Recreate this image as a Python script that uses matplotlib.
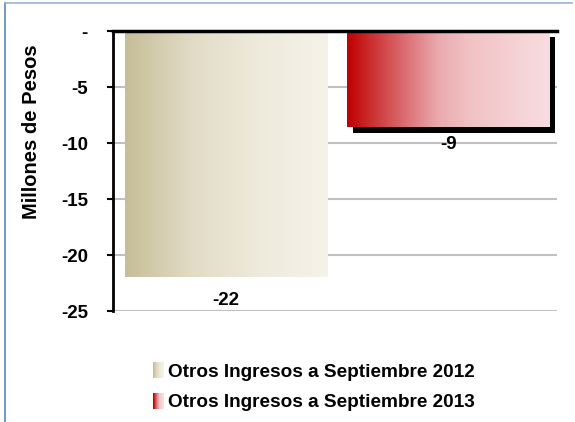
import numpy as np
import matplotlib
matplotlib.use("Agg")
import matplotlib.pyplot as plt
from matplotlib.colors import LinearSegmentedColormap
from matplotlib.patches import Rectangle
from matplotlib.legend_handler import HandlerBase
import matplotlib.patheffects as pe

plt.rcParams['font.family'] = ['Liberation Sans', 'DejaVu Sans']
plt.rcParams['font.weight'] = 'bold'

# data
series = ['Otros Ingresos a Septiembre 2012', 'Otros Ingresos a Septiembre 2013']
values = [-22.0, -8.6]
yticks = [0, -5, -10, -15, -20, -25]
yticklabels = ['-', '-5', '-10', '-15', '-20', '-25']
label_offsets = [-23, -17]   # px below bar end

cmaps = [
    LinearSegmentedColormap.from_list('beige', ['#C6BE98', '#E2DCC6', '#EEEADC', '#F5F2E9']),
    LinearSegmentedColormap.from_list('red', [(0, '#C00000'), (0.2, '#D34F52'),
                                             (0.45, '#EAAAAE'), (0.6, '#F1C2C4'),
                                             (1, '#F8DDE0')]),
]

fig = plt.figure(figsize=(5.75, 4.22), dpi=100)
fig.patch.set_facecolor('white')
ax = fig.add_axes([113/575, 1-311/422, 444/575, 280/422])

# frame around chart
fig.add_artist(plt.Line2D([5/575, 5/575], [0, 1-3/422], color='#5B85C0', lw=1.2,
                          transform=fig.transFigure))
fig.add_artist(plt.Line2D([5/575, 572/575], [1-3/422, 1-3/422], color='#9AB3D8', lw=1.2,
                          transform=fig.transFigure))

x = np.arange(len(values))
bars = ax.bar(x, values, width=0.91, color='none', zorder=3)
grad = np.linspace(0, 1, 256).reshape(1, -1)
for i, b in enumerate(bars):
    x0, w, h = b.get_x(), b.get_width(), b.get_height()
    if i == 1:
        b.set_path_effects([pe.SimplePatchShadow(offset=(4, -4), shadow_rgbFace='#000000', alpha=1.0),
                            pe.Normal()])
        b.set_facecolor(cmaps[i](1.0))
    im = ax.imshow(grad, cmap=cmaps[i], aspect='auto', extent=[x0, x0+w, h, 0], zorder=4)
    im.set_clip_path(b)
    ax.annotate(f'{values[i]:.0f}', (x[i], values[i]), xytext=(0, label_offsets[i]*0.72),
                textcoords='offset points', ha='center', va='center',
                fontsize=13.5, fontweight='bold', zorder=5)

ax.set_xlim(-0.51, 1.49)
ax.set_ylim(-25, 0)
ax.set_yticks(yticks)
ax.set_yticklabels(yticklabels, fontsize=13.5, fontweight='bold')
ax.set_xticks([])
ax.yaxis.grid(True, color='#C0C0C0', lw=1.5, zorder=0)
ax.set_axisbelow(True)
ax.tick_params(axis='y', length=4, width=1.5, direction='out', pad=14)
for s in ['bottom', 'right']:
    ax.spines[s].set_visible(False)
ax.spines['left'].set_linewidth(2)
ax.spines['top'].set_linewidth(2.5)
ax.spines['top'].set_zorder(6)
ax.set_ylabel('Millones de Pesos', fontsize=14.5, fontweight='bold')
ax.yaxis.set_label_coords(-0.162, 0.64)


class GradHandler(HandlerBase):
    def __init__(self, cmap):
        super().__init__()
        self.cmap = cmap

    def create_artists(self, legend, orig_handle, xdescent, ydescent, width, height, fontsize, trans):
        n = 12
        arts = []
        for k in range(n):
            r = Rectangle((-xdescent + k*width/n, -ydescent - 0.1*height), width/n + 0.05, height*1.2,
                          facecolor=self.cmap(k/(n-1)), edgecolor='none', transform=trans)
            arts.append(r)
        return arts


handles = [Rectangle((0, 0), 1, 1) for _ in series]
fig.legend(handles, series, loc='center left', bbox_to_anchor=(153/575, 1-387.5/422),
           frameon=False, prop={'weight': 'bold', 'size': 13.7},
           handlelength=0.58, handleheight=0.7, handletextpad=0.2, labelspacing=0.7,
           borderpad=0, borderaxespad=0,
           handler_map={handles[0]: GradHandler(cmaps[0]), handles[1]: GradHandler(cmaps[1])})

fig.savefig('out.png', dpi=100)
